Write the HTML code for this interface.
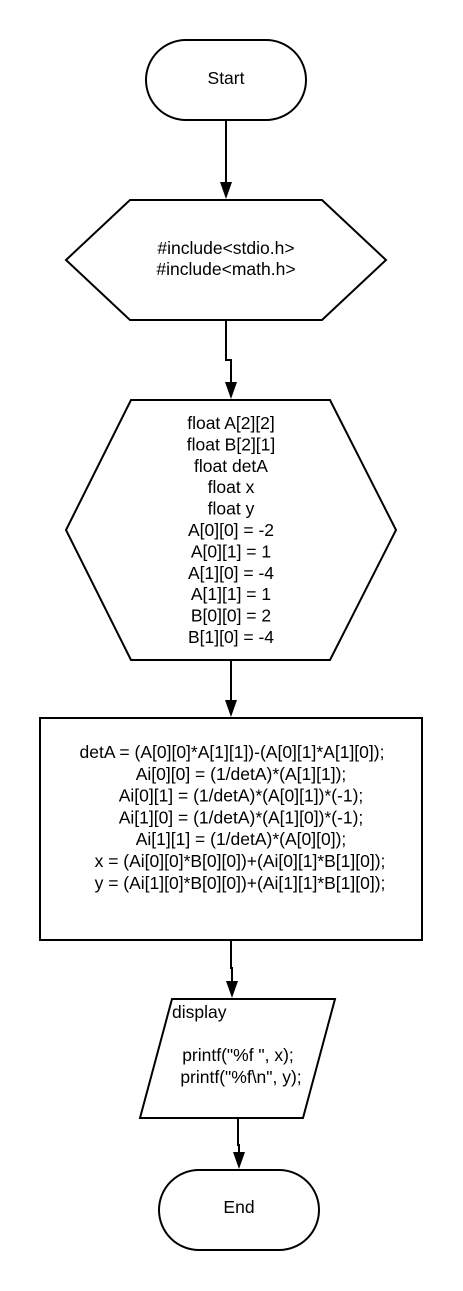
<!DOCTYPE html>
<html><head><style>
html,body{margin:0;padding:0;background:#fff;}
svg{display:block;}
text{font-family:"Liberation Sans",sans-serif;font-size:17.5px;fill:#000;}
</style></head><body>
<svg width="463" height="1291" viewBox="0 0 463 1291" xmlns="http://www.w3.org/2000/svg">
<g fill="none" stroke="#000" stroke-width="2">
<rect x="146" y="40" width="160" height="80" rx="40" ry="40" fill="#fff"/>
<polygon points="130,200 322,200 386,260 322,320 130,320 66,260" fill="#fff"/>
<polygon points="131,400 330,400 396,530 330,660 131,660 66,530" fill="#fff"/>
<rect x="40" y="718" width="382" height="222" fill="#fff"/>
<polygon points="172,999 335,999 303,1118 140,1118" fill="#fff"/>
<rect x="159" y="1170" width="160" height="80" rx="40" ry="40" fill="#fff"/>
<path d="M226,120 V184"/>
<path d="M226,320 V360 H231 V384"/>
<path d="M231,660 V702"/>
<path d="M231,940 V968 H232 V983"/>
<path d="M238,1118 V1145 H239 V1155"/>
</g>
<g fill="#000">
<path d="M220,182 L232,182 L226,199 Z"/>
<path d="M225,382 L237,382 L231,399 Z"/>
<path d="M225,700 L237,700 L231,717 Z"/>
<path d="M226,981 L238,981 L232,998 Z"/>
<path d="M233,1152 L245,1152 L239,1169 Z"/>
</g>
<g text-anchor="middle">
<text x="226" y="84">Start</text>
<text x="226" y="254">#include&lt;stdio.h&gt;</text>
<text x="226" y="275">#include&lt;math.h&gt;</text>
<text x="231" y="429">float A[2][2]</text>
<text x="231" y="450.4">float B[2][1]</text>
<text x="231" y="471.8">float detA</text>
<text x="231" y="493.2">float x</text>
<text x="231" y="514.6">float y</text>
<text x="231" y="536">A[0][0] = -2</text>
<text x="231" y="557.4">A[0][1] = 1</text>
<text x="231" y="578.8">A[1][0] = -4</text>
<text x="231" y="600.2">A[1][1] = 1</text>
<text x="231" y="621.6">B[0][0] = 2</text>
<text x="231" y="643">B[1][0] = -4</text>
<text x="232" y="758">detA = (A[0][0]*A[1][1])-(A[0][1]*A[1][0]);</text>
<text x="241" y="779.8">Ai[0][0] = (1/detA)*(A[1][1]);</text>
<text x="241" y="801.6">Ai[0][1] = (1/detA)*(A[0][1])*(-1);</text>
<text x="241" y="823.4">Ai[1][0] = (1/detA)*(A[1][0])*(-1);</text>
<text x="241" y="845.2">Ai[1][1] = (1/detA)*(A[0][0]);</text>
<text x="240" y="867">x = (Ai[0][0]*B[0][0])+(Ai[0][1]*B[1][0]);</text>
<text x="240" y="888.8">y = (Ai[1][0]*B[0][0])+(Ai[1][1]*B[1][0]);</text>
<text x="238" y="1061">printf("%f ", x);</text>
<text x="241" y="1083">printf("%f\n", y);</text>
<text x="239" y="1213">End</text>
</g>
<text x="172" y="1018">display</text>
</svg>
</body></html>
